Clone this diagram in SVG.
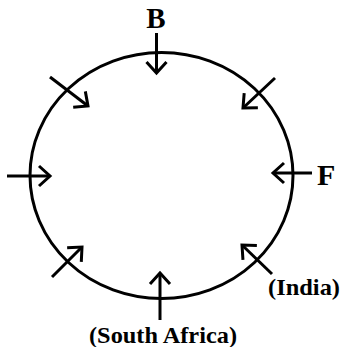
<svg xmlns="http://www.w3.org/2000/svg" width="342" height="347" viewBox="0 0 342 347">
<style>
.ln{stroke:#000;stroke-width:3;fill:none;stroke-linecap:butt}
.lbl{font-family:"Liberation Serif","Times New Roman",serif;font-weight:bold;fill:#000}
</style>
<defs>
<marker id="ah" markerUnits="userSpaceOnUse" markerWidth="30" markerHeight="30" viewBox="-15 -15 30 30" refX="0" refY="0" orient="auto" overflow="visible">
<path d="M-11,-10 L0,0 L-11,10" stroke="#000" stroke-width="3" fill="none" stroke-linejoin="miter"/>
</marker>
</defs>
<rect width="342" height="347" fill="#fff"/>
<g id="circle">
<ellipse cx="161.5" cy="175.5" rx="131.5" ry="123" class="ln"/>
</g>
<g id="connectors">
<line x1="156.5" y1="33" x2="156.5" y2="73" class="ln" marker-end="url(#ah)"/>
<line x1="7" y1="176" x2="50" y2="176" class="ln" marker-end="url(#ah)"/>
<line x1="312" y1="173" x2="273" y2="173" class="ln" marker-end="url(#ah)"/>
<line x1="160" y1="320" x2="160" y2="273" class="ln" marker-end="url(#ah)"/>
<line x1="50" y1="77" x2="88" y2="106" class="ln" marker-end="url(#ah)"/>
<line x1="275" y1="78" x2="243" y2="108" class="ln" marker-end="url(#ah)"/>
<line x1="52" y1="277" x2="82" y2="247" class="ln" marker-end="url(#ah)"/>
<line x1="272" y1="274" x2="242" y2="245" class="ln" marker-end="url(#ah)"/>
</g>
<g id="label-B"><text class="lbl" x="156" y="28" font-size="29" text-anchor="middle">B</text></g>
<g id="label-F"><text class="lbl" x="317" y="185" font-size="30">F</text></g>
<g id="label-India"><text class="lbl" x="268" y="295" font-size="23" textLength="72" lengthAdjust="spacingAndGlyphs">(India)</text></g>
<g id="label-SouthAfrica"><text class="lbl" x="89" y="343" font-size="23" textLength="148" lengthAdjust="spacingAndGlyphs">(South Africa)</text></g>
</svg>
